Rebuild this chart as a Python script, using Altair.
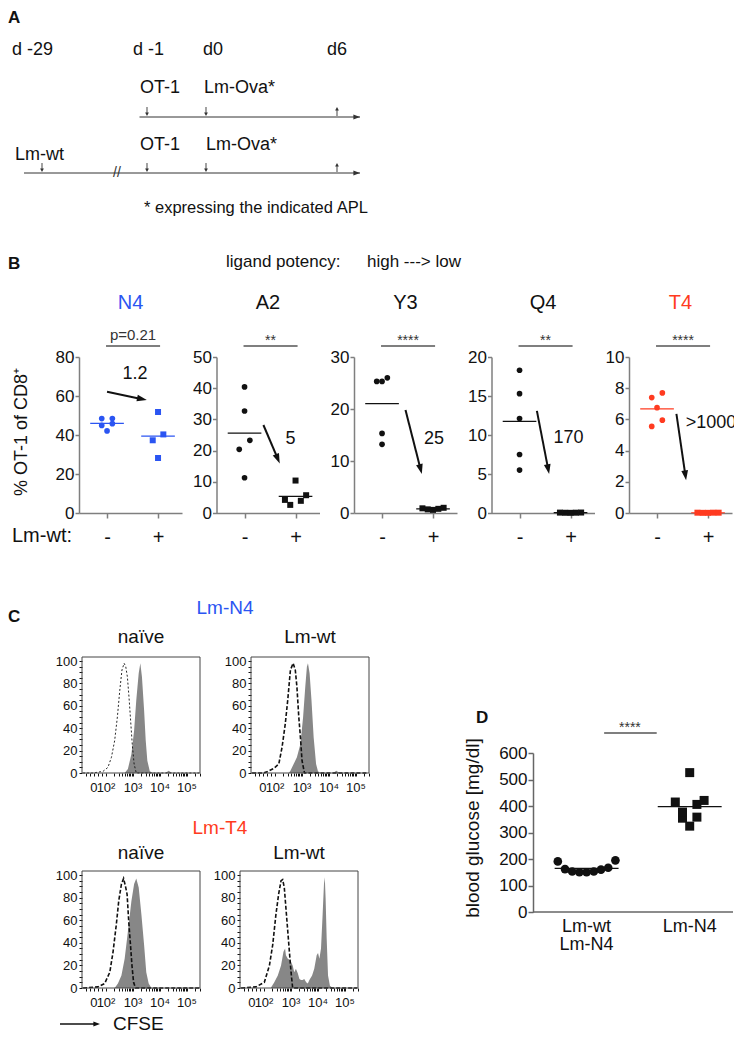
import math
import altair as alt
import pandas as pd

FONT = "Liberation Sans"
BLUE = "#2b55f2"
RED = "#ff3b20"
INK = "#111111"
AXG = "#7f7f7f"
HISTGRAY = "#878787"

# ======================= DATA =======================
# Panel A (timeline)
tl_head_days = [-29, -1, 0, 6]
tl_head_text = ["d -29", "d -1", "d0", "d6"]
arm1_days = [-1, 0]
arm1_text = ["OT-1", "Lm-Ova*"]
arm2_days = [-29, -1, 0]
arm2_text = ["Lm-wt", "OT-1", "Lm-Ova*"]
readout_day = 6
footnote = "* expressing the indicated APL"

# Panel B (% OT-1 of CD8+)
b_names = ["N4", "A2", "Y3", "Q4", "T4"]
b_ymax = [80, 50, 30, 20, 10]
b_ystep = [20, 10, 10, 5, 2]
n4_minus = [45.8, 48.4, 42.1, 48.4, 44.9]
n4_plus = [51.8, 40.3, 37.3, 28.2]
a2_minus = [40.4, 32.7, 23.3, 20.4, 11.3]
a2_plus = [10.4, 4.2, 2.6, 3.9, 5.7]
y3_minus = [26.0, 25.3, 25.3, 15.3, 13.2]
y3_plus = [0.9, 0.8, 0.6, 0.7, 1.0]
q4_minus = [18.3, 15.3, 12.1, 7.5, 5.5]
q4_plus = [0.06, 0.04, 0.03, 0.05, 0.02]
t4_minus = [7.4, 7.7, 6.75, 5.55, 5.95]
t4_plus = [0.02, 0.01, 0.02, 0.01, 0.02]
b_minus = [n4_minus, a2_minus, y3_minus, q4_minus, t4_minus]
b_plus = [n4_plus, a2_plus, y3_plus, q4_plus, t4_plus]
b_fold = ["1.2", "5", "25", "170", ">1000"]
b_stat = ["p=0.21", "**", "****", "**", "****"]

# Panel C (CFSE histograms; x in decades of CFSE, y in % of max)
hist_tick_pos = [1.55, 2, 3, 4, 5]
hist_tick_text = ["0", "10²", "10³", "10⁴", "10⁵"]
n4_naive_ref_x = [1.15, 1.52, 1.89, 2.07, 2.20, 2.32, 2.42, 2.51, 2.59, 2.67, 2.73, 2.79, 2.85, 2.91, 2.97, 3.04, 3.12, 5.45]
n4_naive_ref_y = [0, 0, 1.5, 5, 14, 29, 50, 74, 92, 98, 95, 86, 68, 47, 26, 8, 0, 0]
n4_naive_x = [2.69, 2.81, 2.94, 3.04, 3.12, 3.21, 3.27, 3.33, 3.41, 3.47, 3.53, 3.62, 3.74, 4.20, 4.32, 4.44]
n4_naive_y = [0, 3.6, 17, 38, 65, 89, 98, 86, 56, 29, 11, 1.5, 0, 0, 2, 0]
n4_wt_ref_x = [1.15, 1.58, 1.70, 1.95, 2.14, 2.26, 2.38, 2.47, 2.57, 2.67, 2.75, 2.81, 2.88, 2.94, 3.00, 3.09, 5.45]
n4_wt_ref_y = [0, 0, 1, 4, 8, 23, 44, 65, 92, 98, 92, 77, 50, 32, 11, 0, 0]
n4_wt_x = [2.51, 2.57, 2.69, 2.81, 2.94, 3.04, 3.12, 3.18, 3.22, 3.28, 3.35, 3.43, 3.52, 3.59, 3.68, 4.15, 4.27, 4.39]
n4_wt_y = [0, 2, 8, 14, 26, 50, 77, 95, 98, 89, 65, 32, 8, 1.5, 0, 0, 2, 0]
t4_naive_ref_x = [1.15, 1.70, 1.95, 2.14, 2.26, 2.38, 2.47, 2.57, 2.65, 2.72, 2.78, 2.84, 2.90, 2.96, 3.02, 3.09, 5.45]
t4_naive_ref_y = [0, 1, 4, 14, 32, 56, 77, 92, 97, 90, 83, 59, 40, 20, 5, 0, 0]
t4_naive_x = [2.32, 2.44, 2.57, 2.69, 2.81, 2.94, 3.04, 3.12, 3.21, 3.31, 3.41, 3.49, 3.58, 3.68]
t4_naive_y = [0, 4, 11, 26, 50, 77, 92, 97, 89, 65, 38, 14, 4, 0]
t4_wt_ref_x = [1.15, 1.70, 2.01, 2.20, 2.32, 2.44, 2.54, 2.63, 2.69, 2.75, 2.81, 2.88, 2.94, 3.00, 3.06, 5.45]
t4_wt_ref_y = [0, 1, 5, 20, 38, 65, 83, 95, 96, 89, 71, 50, 32, 14, 0, 0]
t4_wt_x = [2.26, 2.38, 2.51, 2.63, 2.72, 2.78, 2.81, 2.88, 2.94, 3.00, 3.06, 3.12, 3.18, 3.25, 3.31, 3.37,
           3.43, 3.49, 3.56, 3.62, 3.68, 3.78, 3.86, 3.95, 4.00, 4.05, 4.11, 4.17, 4.22, 4.25, 4.28, 4.32,
           4.37, 4.44, 4.54]
t4_wt_y = [0.5, 5, 11, 20, 32, 35, 29, 26, 25, 23, 20, 14, 17, 13, 8, 7, 7, 8, 5, 4, 7, 11, 17, 29, 31,
           26, 35, 65, 92, 98, 80, 44, 11, 2, 0]

# Panel D (blood glucose)
d_groups = ["Lm-wt\nLm-N4", "Lm-N4"]
d_wt_n4 = [195, 167, 160, 153, 150, 150, 153, 162, 191]
d_n4 = [526, 415, 406, 421, 358, 324, 354, 377]

# ======================= HELPERS =======================
W, H = 726, 1026
UP_HEAD = "M0,0L0.75,2.2L-0.75,2.2Z"          # tip at origin, pointing up
RIGHT_HEAD = "M0,0L-2.2,-0.8L-2.2,0.8Z"       # tip at origin, pointing right
DOWN_ARROW = "M-0.1,-1L0.1,-1L0.1,0.2L0.42,0.2L0,1L-0.42,0.2L-0.1,0.2Z"
UP_ARROW = "M-0.1,1L0.1,1L0.1,-0.2L0.42,-0.2L0,-1L-0.42,-0.2L-0.1,-0.2Z"
ONE = pd.DataFrame({"k": [0]})


def swarm(vals, ppu, bin_px):
    order = sorted(range(len(vals)), key=lambda i: vals[i])
    rows = []
    for i in order:
        if rows and (vals[i] - vals[rows[-1][0]]) * ppu < bin_px:
            rows[-1].append(i)
        else:
            rows.append([i])
    off = [0] * len(vals)
    for r in rows:
        n = len(r)
        seq = ([0] if n % 2 else []) + [s * k for k in range(1, n // 2 + 1) for s in (-1, 1)]
        for j, i in enumerate(r):
            off[i] = seq[j]
    return off


def label(text, x, y, size=17, color=INK, weight="normal", align="left", baseline="middle", angle=0):
    kw = dict(text=text, fontSize=size, color=color, fontWeight=weight, align=align, baseline=baseline)
    if angle:
        kw["angle"] = angle
    return alt.Chart(ONE).mark_text(**kw).encode(x=alt.value(x), y=alt.value(y))


# ======================= PANEL A =======================
xA = alt.Scale(domain=[-30, -29, -1, 0, 6, 7], range=[16, 34, 139, 198, 329, 352], nice=False, zero=False)
yA = alt.Scale(domain=[1, 2], range=[109, 165], nice=False, zero=False)

lines_df = pd.DataFrame({"track": [1, 2], "start": [-3, -30], "end": [7, 7]})
tl_lines = alt.Chart(lines_df).mark_rule(color="#333", strokeWidth=1).encode(
    x=alt.X("start:Q", scale=xA, axis=None), x2="end:Q", y=alt.Y("track:Q", scale=yA, axis=None))
tl_heads = alt.Chart(lines_df).mark_point(shape=RIGHT_HEAD, filled=True, size=36, color="#333",
                                          opacity=1, strokeWidth=0).encode(
    x=alt.X("end:Q", scale=xA, axis=None), y=alt.Y("track:Q", scale=yA, axis=None))
ev_df = pd.DataFrame({
    "track": [1] * len(arm1_days) + [1] + [2] * len(arm2_days) + [2],
    "day": arm1_days + [readout_day] + arm2_days + [readout_day],
    "dir": ["down"] * len(arm1_days) + ["up"] + ["down"] * len(arm2_days) + ["up"],
})
tl_events = alt.Chart(ev_df).mark_point(filled=True, size=81, color="#333", opacity=1,
                                        strokeWidth=0, yOffset=-5.5).encode(
    x=alt.X("day:Q", scale=xA, axis=None), y=alt.Y("track:Q", scale=yA, axis=None),
    shape=alt.Shape("dir:N", scale=alt.Scale(domain=["down", "up"], range=[DOWN_ARROW, UP_ARROW]), legend=None))
a_layers = [tl_lines, tl_heads, tl_events]
for d, t, dx in zip(tl_head_days, tl_head_text, [-30, -14, -3, -10]):
    a_layers.append(alt.Chart(pd.DataFrame({"day": [d], "t": [t]})).mark_text(
        align="left", baseline="middle", fontSize=18, dx=dx, color=INK).encode(
        x=alt.X("day:Q", scale=xA, axis=None), y=alt.value(42), text="t:N"))
for tr, days, texts, dxs, dys in [
    (1, arm1_days, arm1_text, [-7, -2], [-29, -29]),
    (2, arm2_days, arm2_text, [-27, -7, 0], [-18, -28, -28]),
]:
    for d, t, dx, dy in zip(days, texts, dxs, dys):
        a_layers.append(alt.Chart(pd.DataFrame({"day": [d], "track": [tr], "t": [t]})).mark_text(
            align="left", baseline="middle", fontSize=18, dx=dx, dy=dy, color=INK).encode(
            x=alt.X("day:Q", scale=xA, axis=None), y=alt.Y("track:Q", scale=yA, axis=None), text="t:N"))
a_layers.append(alt.Chart(pd.DataFrame({"day": [-9], "track": [2]})).mark_text(
    text="//", fontSize=14, color="#333", baseline="middle").encode(
    x=alt.X("day:Q", scale=xA, axis=None), y=alt.Y("track:Q", scale=yA, axis=None)))
a_layers.append(label(footnote, 136, 200, size=16.5))
a_layers.append(label("A", 0, 10, size=17, weight="bold"))
panelA = alt.layer(*a_layers)

# ======================= PANEL B =======================
WB, B_TOP, B_BOT = 103, 349, 505
B_X0 = [71 + 137.5 * k for k in range(5)]
XB_DOM = [-0.55, 1.47]
PPX_B = WB / (XB_DOM[1] - XB_DOM[0])
SLOT_B = 5.3 / PPX_B
B_ARROWS = [(0.0, 62.2, 0.78, 57.9), (0.37, 28.2, 0.69, 15.9), (0.46, 19.8, 0.78, 7.5),
            (0.34, 13.1, 0.58, 5.0), (0.38, 6.35, 0.57, 2.1)]
B_FOLDPOS = [(0.55, 71.1), (0.9, 23.6), (1.02, 14.2), (0.96, 9.6), (1.06, 5.75)]


def b_panel(k):
    name, ymax, step, x0 = b_names[k], b_ymax[k], b_ystep[k], B_X0[k]
    col = BLUE if name == "N4" else RED if name == "T4" else INK
    ppy = (B_BOT - B_TOP) / ymax
    recs = []
    for g, vals in ((0, b_minus[k]), (1, b_plus[k])):
        for v, o in zip(vals, swarm(vals, ppy, 10)):
            recs.append({"g": g, "x": g + o * SLOT_B, "v": v})
    df = pd.DataFrame(recs)
    means = pd.DataFrame({"g": [0, 1], "m": [sum(b_minus[k]) / len(b_minus[k]), sum(b_plus[k]) / len(b_plus[k])]})
    means["x0"] = means.g - 0.33
    means["x1"] = means.g + 0.33
    xs = alt.Scale(domain=XB_DOM, range=[x0, x0 + WB], nice=False, zero=False)
    ys = alt.Scale(domain=[0, ymax], range=[B_BOT, B_TOP], nice=False, zero=False)
    xax = alt.Axis(values=[0, 1], labelExpr="datum.value == 0 ? '-' : '+'", labelFontSize=20, tickSize=5,
                   labelPadding=9, domainColor=AXG, tickColor=AXG, domainWidth=1.5, tickWidth=1.5,
                   title=None, labelFlush=False, labelOverlap=False, grid=False, orient="bottom",
                   offset=B_BOT - H)
    yax = alt.Axis(values=list(range(0, ymax + 1, step)), format="d", labelFontSize=17, tickSize=4,
                   labelPadding=1, domainColor=AXG, tickColor=AXG, domainWidth=1.5, tickWidth=1.5, title=None,
                   labelFlush=False, labelOverlap=False, grid=False, orient="left", offset=-x0)
    X = alt.X("x:Q", scale=xs, axis=xax)
    Y = alt.Y("v:Q", scale=ys, axis=yax)
    minus = alt.Chart(df).transform_filter("datum.g == 0").mark_point(
        shape="circle", filled=True, size=32, color=col, opacity=1).encode(x=X, y=Y)
    plus = alt.Chart(df).transform_filter("datum.g == 1").mark_point(
        shape="square", filled=True, size=36, color=col, opacity=1).encode(x=X, y=Y)
    mean_rules = alt.Chart(means).mark_rule(color=col, strokeWidth=1.2).encode(
        x=alt.X("x0:Q", scale=xs, axis=xax), x2="x1:Q", y=alt.Y("m:Q", scale=ys, axis=yax))
    ax0, ay0, ax1, ay1 = B_ARROWS[k]
    dxp, dyp = (ax1 - ax0) * PPX_B, (ay1 - ay0) * ppy
    L = math.hypot(dxp, dyp)
    theta = math.degrees(math.atan2(dxp, dyp)) % 360
    f = max(0.0, 1 - 7 / L)
    arr = pd.DataFrame({"x0": [ax0], "y0": [ay0], "x1": [ax0 + (ax1 - ax0) * f], "y1": [ay0 + (ay1 - ay0) * f],
                        "tx": [ax1], "ty": [ay1]})
    arrow_line = alt.Chart(arr).mark_rule(color=INK, strokeWidth=2).encode(
        x=alt.X("x0:Q", scale=xs, axis=xax), y=alt.Y("y0:Q", scale=ys, axis=yax), x2="x1:Q", y2="y1:Q")
    arrow_head = alt.Chart(arr).mark_point(shape=UP_HEAD, filled=True, size=81, angle=theta, color=INK,
                                           opacity=1, strokeWidth=0).encode(
        x=alt.X("tx:Q", scale=xs, axis=xax), y=alt.Y("ty:Q", scale=ys, axis=yax))
    fx, fy = B_FOLDPOS[k]
    fold = alt.Chart(pd.DataFrame({"x": [fx], "y": [fy], "t": [b_fold[k]]})).mark_text(
        fontSize=18, color=INK, baseline="middle", clip=(name == "T4")).encode(
        x=alt.X("x:Q", scale=xs, axis=xax), y=alt.Y("y:Q", scale=ys, axis=yax), text="t:N")
    bar = alt.Chart(ONE).mark_rule(color="#555", strokeWidth=1.5).encode(
        x=alt.datum(-0.02, scale=xs), x2=alt.datum(1.04), y=alt.value(B_TOP - 11))
    is_p = b_stat[k].startswith("p")
    stat = alt.Chart(ONE).mark_text(text=b_stat[k], fontSize=15 if is_p else 14, color="#333",
                                    baseline="alphabetic").encode(
        x=alt.datum(0.51, scale=xs), y=alt.value(B_TOP - (17 if is_p else 12)))
    title = label(name, x0 + WB / 2, B_TOP - 54, size=20, color=col, align="center")
    return alt.layer(minus, plus, mean_rules, arrow_line, arrow_head, fold, bar, stat, title)


b_texts = alt.layer(
    label("B", 0, B_TOP - 93, size=17, weight="bold"),
    label("ligand potency:", 218, B_TOP - 95, size=17),
    label("high ---> low", 359, B_TOP - 95, size=17),
    label("Lm-wt:", 4, B_TOP + 179, size=20),
    label("% OT-1 of CD8⁺", 14, B_TOP + 75, size=18, align="center", angle=270),
)

# ======================= PANEL C =======================
WH = 118
HX_DOM = [1.11, 5.48]
HX_TICKS = [1.25, 1.4, 1.55, 1.7, 1.85] + [n + math.log10(m) for n in (2, 3, 4) for m in range(1, 10)] + \
           [5, 5 + math.log10(2), 5 + math.log10(3)]
tick_df = pd.DataFrame({"x": hist_tick_pos, "t": hist_tick_text})


def hist(rx, ry, fx, fy, title, thin, x0, top, bot, title_dy):
    xs = alt.Scale(domain=HX_DOM, range=[x0, x0 + WH], nice=False, zero=False)
    ys = alt.Scale(domain=[0, 103.6], range=[bot, top], nice=False, zero=False)
    xax = alt.Axis(values=HX_TICKS, labels=False, tickSize=3, domain=False, title=None, tickColor=INK,
                   grid=False, orient="bottom", offset=bot - H)
    yax = alt.Axis(values=list(range(0, 101, 5)), labelExpr="datum.value % 20 == 0 ? datum.label : ''",
                   tickSize=3, domain=False, labelFontSize=13, labelPadding=2, labelFlush=False,
                   labelOverlap=False, title=None, tickColor=INK, grid=False, orient="left", offset=-x0)
    area = alt.Chart(pd.DataFrame({"x": fx, "y": fy})).mark_area(color=HISTGRAY, opacity=1).encode(
        x=alt.X("x:Q", scale=xs, axis=xax), y=alt.Y("y:Q", scale=ys, axis=yax))
    line = alt.Chart(pd.DataFrame({"x": rx, "y": ry})).mark_line(
        color=INK, strokeDash=[2, 2] if thin else [4, 2], strokeWidth=0.9 if thin else 1.6).encode(
        x=alt.X("x:Q", scale=xs, axis=xax), y=alt.Y("y:Q", scale=ys, axis=yax))
    ticks = alt.Chart(tick_df).mark_text(fontSize=13, color=INK, baseline="middle").encode(
        x=alt.X("x:Q", scale=xs, axis=xax), y=alt.value(bot + 15), text="t:N")
    frame = alt.Chart(ONE).mark_rect(fillOpacity=0, stroke="#444", strokeWidth=1).encode(
        x=alt.value(x0), x2=alt.value(x0 + WH), y=alt.value(top), y2=alt.value(bot))
    ttl = label(title, x0 + WH / 2, top + title_dy, size=19, align="center")
    return alt.layer(area, line, ticks, frame, ttl)


C1_TOP, C1_BOT, C2_TOP, C2_BOT = 649, 765, 863, 980
h1 = hist(n4_naive_ref_x, n4_naive_ref_y, n4_naive_x, n4_naive_y, "naïve", True, 74, C1_TOP, C1_BOT, -20)
h2 = hist(n4_wt_ref_x, n4_wt_ref_y, n4_wt_x, n4_wt_y, "Lm-wt", False, 243, C1_TOP, C1_BOT, -20)
h3 = hist(t4_naive_ref_x, t4_naive_ref_y, t4_naive_x, t4_naive_y, "naïve", False, 74, C2_TOP, C2_BOT, -18)
h4 = hist(t4_wt_ref_x, t4_wt_ref_y, t4_wt_x, t4_wt_y, "Lm-wt", False, 232, C2_TOP, C2_BOT, -18)
c_texts = alt.layer(
    label("C", 0, C1_TOP - 40, size=17, weight="bold"),
    label("Lm-N4", 217, C1_TOP - 49, size=19, color=BLUE, align="center"),
    label("Lm-T4", 212, C2_TOP - 43, size=19, color=RED, align="center"),
    alt.Chart(ONE).mark_rule(color=INK, strokeWidth=1.3).encode(
        x=alt.value(52), x2=alt.value(88), y=alt.value(1016)),
    alt.Chart(ONE).mark_point(shape=RIGHT_HEAD, filled=True, size=36, color=INK, opacity=1, strokeWidth=0).encode(
        x=alt.value(92), y=alt.value(1016)),
    label("CFSE", 105, 1016, size=19),
)

# ======================= PANEL D =======================
D_X0, WD, D_TOP, D_BOT = 525, 200, 745, 904
XD_DOM = [-0.52, 1.42]
PPX_D = WD / (XD_DOM[1] - XD_DOM[0])
PPY_D = (D_BOT - D_TOP) / 600
recs = []
for g, vals in ((0, d_wt_n4), (1, d_n4)):
    for v, o in zip(vals, swarm(vals, PPY_D, 14)):
        recs.append({"g": g, "x": g + o * 7.2 / PPX_D, "v": v})
d_df = pd.DataFrame(recs)
d_means = pd.DataFrame({"g": [0, 1], "m": [sum(d_wt_n4) / len(d_wt_n4), sum(d_n4) / len(d_n4)]})
d_means["x0"] = d_means.g - 0.31
d_means["x1"] = d_means.g + 0.31
xsD = alt.Scale(domain=XD_DOM, range=[D_X0, D_X0 + WD], nice=False, zero=False)
ysD = alt.Scale(domain=[0, 600], range=[D_BOT, D_TOP], nice=False, zero=False)
yaxD = alt.Axis(values=list(range(0, 601, 100)), format="d", labelFontSize=17, tickSize=5, labelPadding=1,
                domainColor="#666", tickColor="#666", domainWidth=1.5, tickWidth=1.5, title=None,
                labelFlush=False, labelOverlap=False, grid=False, orient="left", offset=-D_X0)
XDd = alt.X("x:Q", scale=xsD, axis=None)
YDd = alt.Y("v:Q", scale=ysD, axis=yaxD)
d_circ = alt.Chart(d_df).transform_filter("datum.g == 0").mark_point(
    shape="circle", filled=True, size=75, color=INK, opacity=1).encode(x=XDd, y=YDd)
d_sq = alt.Chart(d_df).transform_filter("datum.g == 1").mark_point(
    shape="square", filled=True, size=81, color=INK, opacity=1).encode(x=XDd, y=YDd)
d_mean = alt.Chart(d_means).mark_rule(color=INK, strokeWidth=1.3).encode(
    x=alt.X("x0:Q", scale=xsD, axis=None), x2="x1:Q", y=alt.Y("m:Q", scale=ysD, axis=yaxD))
d_base = alt.Chart(ONE).mark_rule(color="#666", strokeWidth=1.5).encode(
    x=alt.value(D_X0), x2=alt.value(D_X0 + WD), y=alt.value(D_BOT))
d_lab_df = pd.DataFrame({"g": [0, 1], "l1": [s.split("\n")[0] for s in d_groups],
                         "l2": [s.split("\n")[1] if "\n" in s else "" for s in d_groups]})
d_lab1 = alt.Chart(d_lab_df).mark_text(fontSize=18, color=INK, baseline="middle").encode(
    x=alt.X("g:Q", scale=xsD, axis=None), y=alt.value(D_BOT + 15), text="l1:N")
d_lab2 = alt.Chart(d_lab_df).mark_text(fontSize=18, color=INK, baseline="middle").encode(
    x=alt.X("g:Q", scale=xsD, axis=None), y=alt.value(D_BOT + 33), text="l2:N")
d_bar = alt.Chart(ONE).mark_rule(color="#555", strokeWidth=1.5).encode(
    x=alt.datum(0.17, scale=xsD), x2=alt.datum(0.68), y=alt.value(D_TOP - 20))
d_star = alt.Chart(ONE).mark_text(text="****", fontSize=14, color="#333", baseline="alphabetic").encode(
    x=alt.datum(0.42, scale=xsD), y=alt.value(D_TOP - 21))
d_ylab = label("blood glucose [mg/dl]", D_X0 - 60, D_TOP + 75, size=19, align="center", angle=270)
d_tag = label("D", D_X0 - 57, D_TOP - 35, size=17, weight="bold")
panelD = alt.layer(d_circ, d_sq, d_mean, d_base, d_lab1, d_lab2, d_bar, d_star, d_ylab, d_tag)

# ======================= ASSEMBLY =======================
chart = (
    alt.layer(panelA, b_texts, *[b_panel(k) for k in range(5)], h1, h2, h3, h4, c_texts, panelD)
    .resolve_scale(x="independent", y="independent")
    .properties(width=W, height=H, padding=0, autosize=alt.AutoSizeParams(type="none"))
    .configure(font=FONT)
    .configure_view(stroke=None)
    .configure_axis(grid=False, labelFont=FONT, titleFont=FONT, labelColor=INK, labelOverlap=False,
                    labelFlush=False)
    .configure_text(font=FONT)
)
chart.save("out.html", embed_options={"renderer": "svg", "actions": False})
